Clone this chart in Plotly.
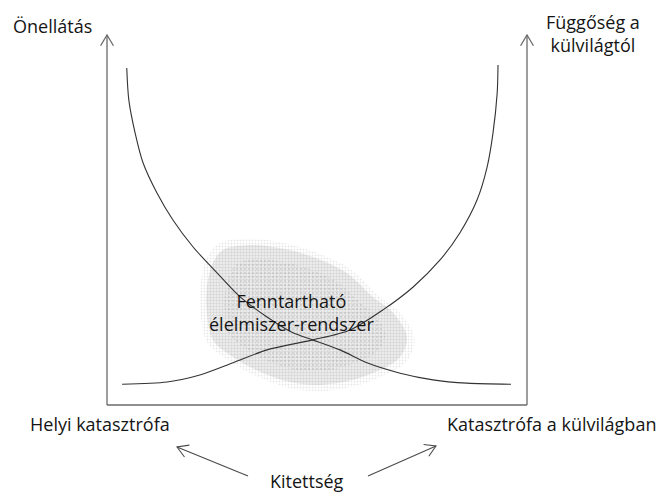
import math
import plotly.graph_objects as go

# ---- data (conceptual units: 0..100 on both axes) ----
self_suff_x = [4.7, 5.2, 6.7, 8.6, 11.9, 15.7, 20.5, 26.2, 31.7, 38.1, 44.3, 49.0, 55.5, 61.9, 69.8, 77.6, 85.7, 96.2]
self_suff_y = [91.1, 82.4, 73.5, 65.4, 57.3, 50.0, 42.7, 35.7, 29.2, 23.8, 19.5, 17.6, 14.9, 11.4, 8.6, 6.8, 5.9, 5.6]

depend_x = [3.6, 14.3, 22.1, 30.0, 38.1, 49.0, 57.9, 65.7, 72.9, 79.3, 84.0, 88.1, 90.5, 91.9, 92.9, 93.1]
depend_y = [5.6, 6.2, 8.1, 11.4, 14.9, 17.6, 20.3, 25.7, 31.9, 39.2, 46.5, 55.4, 64.3, 73.5, 84.3, 91.9]

cloud_x = [27.6, 33.3, 41.2, 49.0, 57.1, 63.3, 68.1, 71.4, 69.8, 65.0, 58.6, 50.7, 43.6, 36.4, 30.0, 25.2, 23.8, 23.8, 25.2, 27.6]
cloud_y = [41.9, 43.2, 42.4, 40.0, 35.7, 29.2, 24.9, 18.4, 13.0, 9.5, 6.8, 5.4, 6.2, 9.0, 13.0, 17.6, 24.9, 31.9, 38.4, 41.9]

labels = {
    "left_axis": "Önellátás",
    "right_axis": "Függőség a<br>külvilágtól",
    "bottom_left": "Helyi katasztrófa",
    "bottom_right": "Katasztrófa a külvilágban",
    "bottom_center": "Kitettség",
    "center": "Fenntartható<br>élelmiszer-rendszer",
}

# ---- layout geometry (pixels) ----
W, H = 659, 494
L, R, T, B = 107, 659 - 527, 35, 494 - 405
PW, PH = W - L - R, H - T - B


def px(x):
    return (x - L) / PW


def py(y):
    return (H - B - y) / PH


FONT = "Open Sans"
FSIZE = 18
TXT = "#151515"
AX = "#6a6a6a"
CURVE = "#333333"

fig = go.Figure()

# soft halo + textured cloud
n = len(cloud_x) - 1
cx = sum(cloud_x[:-1]) / n
cy = sum(cloud_y[:-1]) / n
halo_x = [cx + (v - cx) * 1.07 for v in cloud_x]
halo_y = [cy + (v - cy) * 1.09 for v in cloud_y]
inner_x = [cx + (v - cx) * 0.8 for v in cloud_x]
inner_y = [cy + (v - cy) * 0.8 for v in cloud_y]
fig.add_trace(go.Scatter(
    x=halo_x, y=halo_y, mode="lines", fill="toself", line=dict(width=0, shape="spline"),
    fillcolor="rgba(0,0,0,0)",
    fillpattern=dict(shape=".", fgcolor="#cdcdcd", bgcolor="rgba(255,255,255,0)", size=3, solidity=0.3),
    hoverinfo="skip", showlegend=False))
fig.add_trace(go.Scatter(
    x=cloud_x, y=cloud_y, mode="lines", fill="toself", line=dict(width=0, shape="spline"),
    fillcolor="#f0f0f0",
    fillpattern=dict(shape=".", fgcolor="#bcbcbc", bgcolor="#f1f1f1", size=3, solidity=0.5),
    hoverinfo="skip", showlegend=False))
fig.add_trace(go.Scatter(
    x=inner_x, y=inner_y, mode="lines", fill="toself", line=dict(width=0, shape="spline"),
    fillcolor="rgba(0,0,0,0)",
    fillpattern=dict(shape=".", fgcolor="rgba(150,150,150,0.55)", bgcolor="rgba(255,255,255,0)", size=4, solidity=0.25),
    hoverinfo="skip", showlegend=False))

# curves
fig.add_trace(go.Scatter(x=self_suff_x, y=self_suff_y, mode="lines",
                         line=dict(color=CURVE, width=1.1, shape="spline", smoothing=0.8),
                         hoverinfo="skip", showlegend=False))
fig.add_trace(go.Scatter(x=depend_x, y=depend_y, mode="lines",
                         line=dict(color=CURVE, width=1.1, shape="spline", smoothing=0.8),
                         hoverinfo="skip", showlegend=False))

shapes = []

# box bottom line
shapes.append(dict(type="line", x0=px(107), x1=px(527), y0=py(405), y1=py(405), xref="paper", yref="paper",
                   line=dict(color=AX, width=1.3)))


def arrow(x0, y0, x1, y1, color, width, head=12.5, ang=31):
    """Line from (x0,y0) to tip (x1,y1) in pixels with an open V head."""
    shapes.append(dict(type="line", x0=px(x0), y0=py(y0), x1=px(x1), y1=py(y1), xref="paper", yref="paper",
                       line=dict(color=color, width=width)))
    d = math.atan2(y0 - y1, x0 - x1)
    a = math.radians(ang)
    w1 = (x1 + head * math.cos(d + a), y1 + head * math.sin(d + a))
    w2 = (x1 + head * math.cos(d - a), y1 + head * math.sin(d - a))
    path = "M {} {} L {} {} L {} {}".format(px(w1[0]), py(w1[1]), px(x1), py(y1), px(w2[0]), py(w2[1]))
    shapes.append(dict(type="path", path=path, xref="paper", yref="paper", line=dict(color=color, width=width)))


arrow(107, 405, 107, 35, AX, 1.3)
arrow(527, 405, 527, 35, AX, 1.3)
arrow(248, 476, 177, 447, "#4a4a4a", 1.1)
arrow(368, 476, 436, 446, "#4a4a4a", 1.1)

annotations = []


def label(text, x, y, xanchor="center", size=FSIZE):
    annotations.append(dict(text=text, x=px(x), y=py(y), xref="paper", yref="paper", showarrow=False,
                            xanchor=xanchor, yanchor="middle", font=dict(family=FONT, size=size, color=TXT),
                            align="center"))


label(labels["left_axis"], 52, 26)
label(labels["right_axis"], 593, 33)
label(labels["bottom_left"], 100, 424)
label(labels["bottom_right"], 551, 424)
label(labels["bottom_center"], 307, 481)
label(labels["center"], 291, 312)

fig.update_layout(
    width=W, height=H,
    margin=dict(l=L, r=R, t=T, b=B),
    paper_bgcolor="white", plot_bgcolor="white",
    xaxis=dict(range=[0, 100], visible=False, fixedrange=True),
    yaxis=dict(range=[0, 100], visible=False, fixedrange=True),
    annotations=annotations,
    shapes=shapes,
    showlegend=False,
)

fig.write_html("out.html", config={"displayModeBar": False},
               post_script="document.body.style.margin='0';")
